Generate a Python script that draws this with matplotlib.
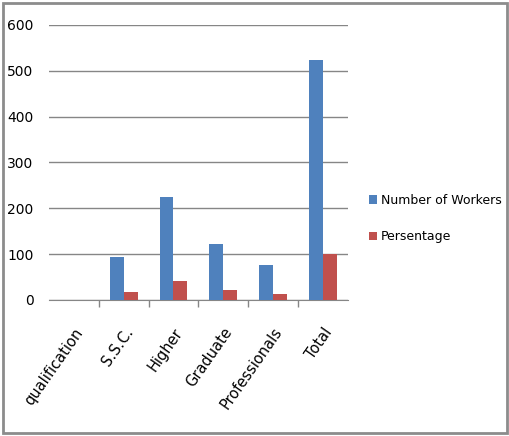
import matplotlib.pyplot as plt
import numpy as np
from matplotlib.patches import Rectangle

categories = ['qualification', 'S.S.C.', 'Higher', 'Graduate', 'Professionals', 'Total']
workers = [0, 94, 225, 122, 76, 524]
percentage = [0, 18, 41, 22, 13, 100]

plt.rcParams['font.family'] = ['DejaVu Sans']

fig = plt.figure(figsize=(5.10, 4.36), dpi=100)
ax = fig.add_axes([0.096, 0.312, 0.586, 0.631])

x = np.arange(len(categories))
w = 0.28
ax.bar(x - w / 2, workers, w, color='#4F81BD', label='Number of Workers', zorder=3)
ax.bar(x + w / 2, percentage, w, color='#C0504D', label='Persentage', zorder=3)

ax.set_xlim(-0.5, len(categories) - 0.5)
ax.set_ylim(0, 600)
ax.set_yticks(range(0, 601, 100))
ax.yaxis.grid(True, color='#868686', linewidth=1, zorder=0)
ax.tick_params(axis='y', length=0, labelsize=10, pad=11)

ax.set_xticks(x)
ax.set_xticklabels(categories, rotation=55, ha='right', rotation_mode='anchor', fontsize=10.5)
ax.tick_params(axis='x', which='major', length=0, pad=18)
ax.set_xticks(np.arange(0.5, len(categories) - 1, 1), minor=True)
ax.tick_params(axis='x', which='minor', length=5, color='#868686', width=1)

for s in ['top', 'right', 'left']:
    ax.spines[s].set_visible(False)
ax.spines['bottom'].set_color('#868686')

ax.legend(loc='center left', bbox_to_anchor=(1.07, 0.296), frameon=False,
          fontsize=9, handlelength=0.7, handleheight=0.7, handletextpad=0.3,
          labelspacing=1.9, borderpad=0, borderaxespad=0)

fig.patches.append(Rectangle((0.006, 0.007), 0.988, 0.986, transform=fig.transFigure,
                             fill=False, edgecolor='#8c8c8c', linewidth=2))

fig.savefig('out.png', dpi=100)
